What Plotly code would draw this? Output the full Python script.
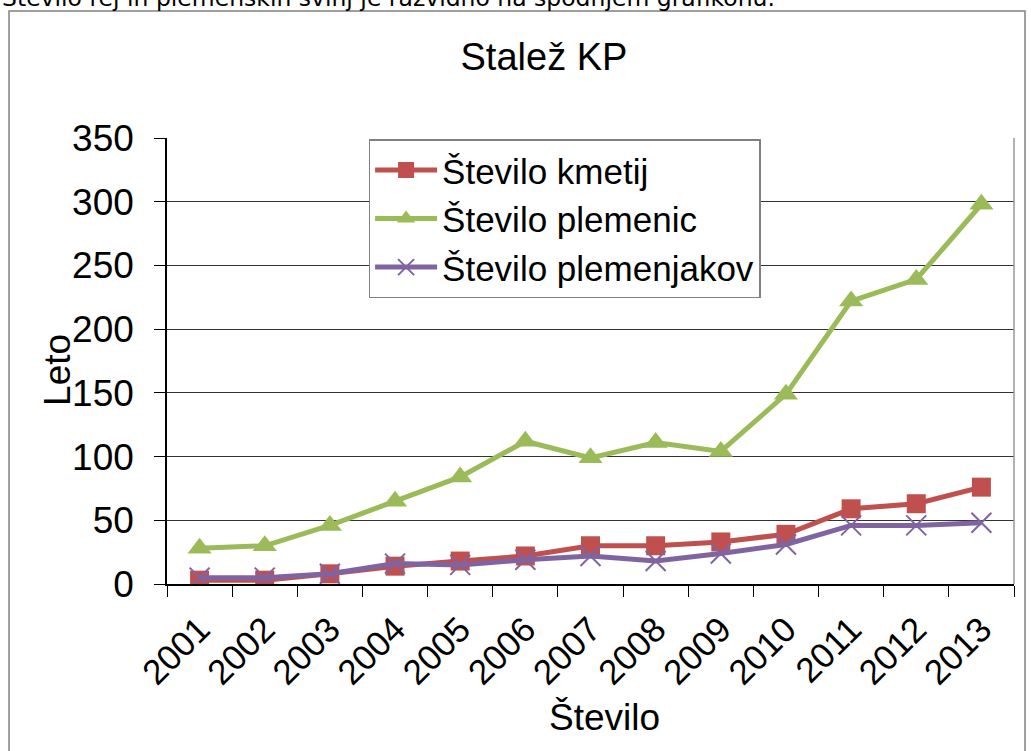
import plotly.graph_objects as go

leta = ["2001", "2002", "2003", "2004", "2005", "2006", "2007",
        "2008", "2009", "2010", "2011", "2012", "2013"]
kmetije = [3, 3, 8, 14, 18, 22, 30, 30, 33, 39, 59, 63, 76]
plemenice = [28, 30, 46, 65, 84, 112, 99, 111, 104, 149, 222, 239, 298]
plemenjaki = [5, 5, 8, 16, 15, 19, 22, 18, 24, 31, 46, 46, 48]

FONT = "Liberation Sans, Arial, sans-serif"

fig = go.Figure()
fig.add_trace(go.Scatter(x=leta, y=kmetije, name="Število kmetij", mode="lines+markers",
                         line=dict(color="#C0504D", width=5),
                         marker=dict(symbol="square", size=19, color="#C0504D")))
fig.add_trace(go.Scatter(x=leta, y=plemenice, name="Število plemenic", mode="lines+markers",
                         line=dict(color="#9BBB59", width=5),
                         marker=dict(symbol="triangle-up", size=21, color="#9BBB59")))
fig.add_trace(go.Scatter(x=leta, y=plemenjaki, name="Število plemenjakov", mode="lines+markers",
                         line=dict(color="#8064A2", width=5),
                         marker=dict(symbol="x-thin", size=20,
                                     line=dict(color="#8064A2", width=2))))

# outer chart frame (gray border)
fig.add_shape(type="rect", xref="paper", yref="paper",
              x0=-0.1865, x1=1.013, y0=-0.42, y1=1.2848,
              line=dict(color="#808080", width=1.5), layer="below")
# right edge of plot area
fig.add_shape(type="line", xref="paper", yref="paper", x0=1, x1=1, y0=0, y1=1,
              line=dict(color="#999999", width=1.5))

# the document sentence above the chart (cut off at the top)
fig.add_annotation(text="Število rej in plemenskih svinj je razvidno na spodnjem grafikonu.",
                   xref="paper", yref="paper", x=-0.197, y=1.313, xanchor="left",
                   yanchor="middle", showarrow=False,
                   font=dict(family="DejaVu Sans, Verdana, sans-serif", size=23.5, color="black"))

# axis titles placed like in the original
fig.add_annotation(text="Leto", xref="paper", yref="paper", x=-0.1287, y=0.48,
                   textangle=-90, showarrow=False, xanchor="center", yanchor="middle",
                   font=dict(size=37, family=FONT))
fig.add_annotation(text="Število", xref="paper", yref="paper", x=0.516, y=-0.3004,
                   showarrow=False, xanchor="center", yanchor="middle",
                   font=dict(size=37, family=FONT))

fig.update_layout(
    width=1031, height=751,
    margin=dict(l=167, r=17, t=138, b=167),
    paper_bgcolor="white", plot_bgcolor="white",
    font=dict(family=FONT, color="black"),
    title=dict(text="Stalež KP", x=0.5276, xanchor="center", y=0.924, yanchor="middle",
               font=dict(size=38, family=FONT)),
    legend=dict(x=0.238, y=0.997, xanchor="left", yanchor="top",
                bordercolor="#808080", borderwidth=1.5, bgcolor="white",
                font=dict(size=35, family=FONT), tracegroupgap=0,
                itemwidth=62),
    showlegend=True,
)
fig.update_xaxes(type="category", range=[-0.5, 12.5], tickson="boundaries",
                 ticks="outside", ticklen=11,
                 tickcolor="black", showline=True, linecolor="black", linewidth=1.5,
                 showgrid=False, tickangle=-45, tickfont=dict(size=35), automargin=False,
                 ticklabelstandoff=9)
fig.update_yaxes(range=[0, 350], dtick=50, ticks="outside", ticklen=11, tickcolor="black",
                 showline=True, linecolor="black", linewidth=1.5,
                 showgrid=True, gridcolor="#333333", gridwidth=1,
                 tickfont=dict(size=37), zeroline=False, automargin=False,
                 ticklabelstandoff=13)

fig.write_html("out.html", config={"displayModeBar": False},
               post_script="document.body.style.margin='0';")
